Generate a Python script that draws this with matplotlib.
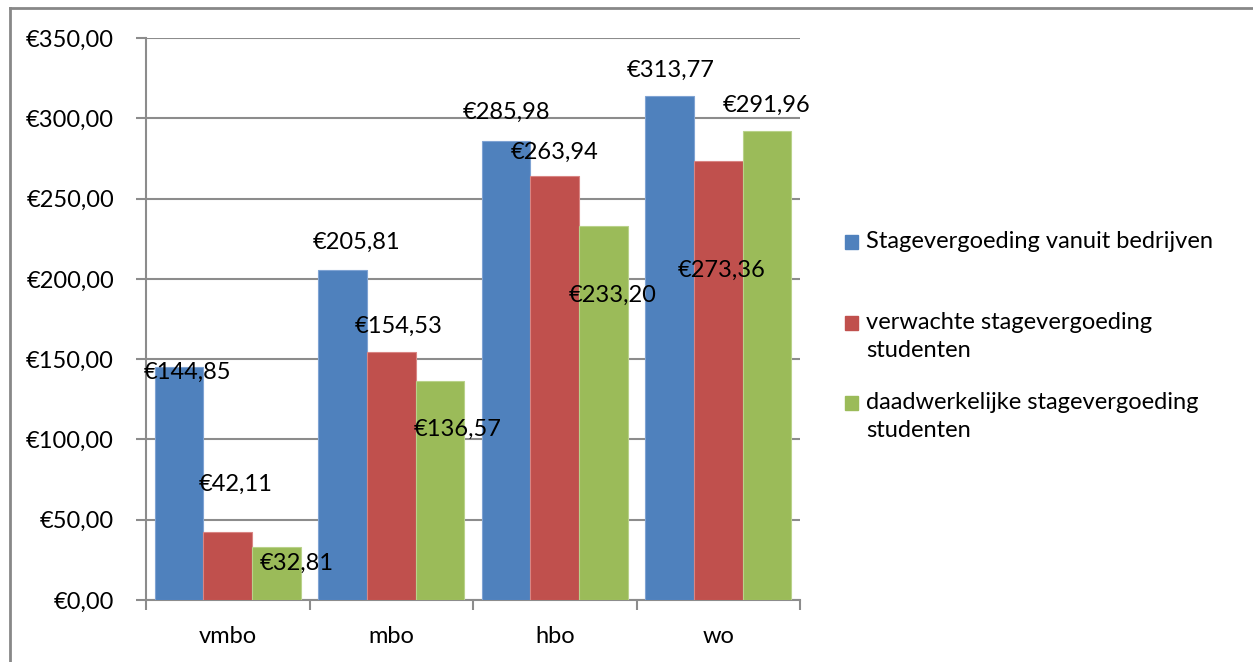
import matplotlib.pyplot as plt
import numpy as np
from matplotlib.patches import Rectangle
from matplotlib.lines import Line2D

plt.rcParams['font.family'] = ['Lato', 'DejaVu Sans']

categories = ['vmbo', 'mbo', 'hbo', 'wo']
series_names = ['Stagevergoeding vanuit bedrijven',
                'verwachte stagevergoeding\nstudenten',
                'daadwerkelijke stagevergoeding\nstudenten']
bedrijven = [144.85, 205.81, 285.98, 313.77]
verwacht = [42.11, 154.53, 263.94, 273.36]
daadwerkelijk = [32.81, 136.57, 233.20, 291.96]
yticks = [0, 50, 100, 150, 200, 250, 300, 350]

colors = ['#4F81BD', '#C0504D', '#9BBB59']
edges = ['#7FA3D3', '#D98583', '#B9D28A']
# label placement (pixels relative to bar top centre), like the hand-moved excel labels
label_offsets = [
    [(8, -5), (14, 27), (0, 28), (1, 26)],
    [(8, 48), (7, 26), (0, 24), (3, -109)],
    [(20, -16), (18, -49), (9, -70), (0, 26)],
]
fs = 17

def euro(v):
    return '€' + f'{v:.2f}'.replace('.', ',')

fig = plt.figure(figsize=(12.53, 6.62), dpi=100)
ax = fig.add_axes([146/1253, 62/662, 654/1253, 562/662])

x = np.arange(len(categories))
w = 0.297
data = [bedrijven, verwacht, daadwerkelijk]
for i, vals in enumerate(data):
    bars = ax.bar(x + (i - 1) * w, vals, w, color=colors[i], edgecolor=edges[i],
                  linewidth=0.8, zorder=3)
    for j, b in enumerate(bars):
        dx, dy = label_offsets[i][j]
        ax.annotate(euro(vals[j]), (b.get_x() + b.get_width() / 2, b.get_height()),
                    xytext=(dx, dy), textcoords='offset pixels',
                    ha='center', va='center', fontsize=fs, color='black', zorder=5)

ax.set_xlim(-0.5, 3.5)
ax.set_ylim(0, 350)
ax.set_yticks(yticks)
ax.set_yticklabels([euro(v) for v in yticks], fontsize=fs)
ax.yaxis.grid(True, color='#8C8C8C', linewidth=1.5, zorder=0)
ax.set_axisbelow(True)

ax.set_xticks(x)
ax.set_xticklabels(categories, fontsize=fs)
ax.set_xticks(np.arange(-0.5, 4, 1), minor=True)
ax.tick_params(axis='x', which='major', length=0, pad=19)
ax.tick_params(axis='x', which='minor', length=7, width=1.5, color='#8C8C8C', direction='out')
ax.tick_params(axis='y', length=7, width=1.5, color='#8C8C8C', pad=16)

for s in ['top', 'right']:
    ax.spines[s].set_visible(False)
for s in ['left', 'bottom']:
    ax.spines[s].set_color('#8C8C8C')
    ax.spines[s].set_linewidth(1.5)

# legend drawn by hand so the square sits at the first text line
leg_y = [242, 323, 403]
for i, name in enumerate(series_names):
    yf = 1 - leg_y[i] / 662
    fig.patches.append(Rectangle((845/1253, yf - 7/662), 13/1253, 14/662,
                                 transform=fig.transFigure, color=colors[i]))
    fig.text(866/1253, yf + 11/662, name, fontsize=fs, va='top', ha='left',
             linespacing=1.42)

# outer chart frame (partly cut off)
fig.add_artist(Line2D([10/1253, 10/1253], [0, 1 - 8/662], transform=fig.transFigure,
                      color='#888888', linewidth=2))
fig.add_artist(Line2D([10/1253, 1], [1 - 8/662, 1 - 8/662], transform=fig.transFigure,
                      color='#888888', linewidth=2))

fig.savefig('out.png', dpi=100)
